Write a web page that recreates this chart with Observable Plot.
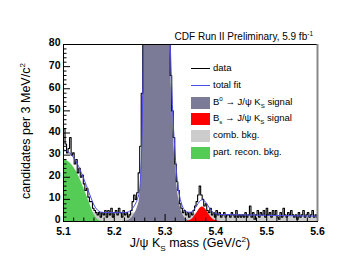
<!DOCTYPE html>
<html><head><meta charset="utf-8">
<script src="https://cdn.jsdelivr.net/npm/d3@7"></script>
<script src="https://cdn.jsdelivr.net/npm/@observablehq/plot@0.6"></script>
<style>
html,body{margin:0;padding:0;background:#fff;}
#wrap{position:relative;width:349px;height:270px;font-family:"Liberation Sans",Arial,sans-serif;color:#000;}
.ov{position:absolute;white-space:nowrap;}
.leg{position:absolute;left:191px;width:19px;}
.lt{position:absolute;left:213px;font-size:9.5px;line-height:12px;white-space:nowrap;}
sup,sub{font-size:0.65em;line-height:0;}
</style>
</head><body>
<div id="wrap"></div>
<script>
// ---- data histogram: counts per 3 MeV bin starting at 5.100 GeV ----
const binStart = 5.1;
const binWidth = 0.003;
const counts = [
42,35,31,33,38,30,31,26,28,22, 24,20,21,17,14,15,11,9,9,6,
5,4,3,4,2,4,3,5,2,5, 3,6,2,4,5,3,6,4,2,5,
3,4,2,3,5,9,12,10,13,22, 34,58,95,140,180,230,270,300,320,335,
330,320,300,270,240,200,160,120,95,84, 66,50,38,26,18,14,8,6,4,5,
3,4,2,4,3,5,7,9,12,16, 12,10,7,8,5,4,6,3,4,2,
5,3,4,2,3,4,2,3,3,2, 4,3,2,5,2,3,2,3,2,4,
2,3,7,2,4,1,3,5,2,4, 3,5,2,6,3,4,2,5,3,5,
2,1,4,2,6,3,2,4,3,5, 3,2,3,1,4,2,3,5,2,3,
4,2,3,5,2,3,2
];

// ---- fit components sampled on a common mass grid (GeV) ----
const fitMass = [5.100,5.110,5.120,5.130,5.140,5.150,5.155,5.160,5.165,5.170,
5.175,5.180,5.190,5.200,5.210,5.220,5.225,5.230,5.235,5.240,
5.245,5.250,5.2525,5.255,5.2575,5.260,5.270,5.284,5.295,5.300,
5.305,5.310,5.315,5.320,5.325,5.330,5.335,5.340,5.345,5.350,
5.355,5.360,5.365,5.370,5.373,5.376,5.380,5.385,5.390,5.395,
5.400,5.410,5.450,5.500,5.550,5.600];
const combBkg = [4.40,4.36,4.32,4.28,4.24,4.20,4.18,4.16,4.14,4.12,
4.10,4.08,4.04,4.00,3.96,3.92,3.90,3.88,3.86,3.84,
3.82,3.80,3.79,3.78,3.77,3.76,3.72,3.66,3.62,3.60,
3.58,3.56,3.54,3.52,3.50,3.48,3.46,3.44,3.42,3.40,
3.38,3.36,3.34,3.32,3.31,3.30,3.28,3.26,3.24,3.22,
3.20,3.16,3.00,2.80,2.60,2.40];
const partRecon = [28,27,24.5,20.5,15,9,6,3.3,1.5,0.5,
0.1,0,0,0,0,0,0,0,0,0,
0,0,0,0,0,0,0,0,0,0,
0,0,0,0,0,0,0,0,0,0,
0,0,0,0,0,0,0,0,0,0,
0,0,0,0,0,0];
const b0Signal = [0,0,0,0,0,0,0,0,0,0,
0,0,0,0,0,0.1,0.3,0.8,1.8,3.5,
6,11,20,40,80,130,280,330,260,190,
125,78,46,26,13,6.5,3,1.4,0.6,0.2,
0,0,0,0,0,0,0,0,0,0,
0,0,0,0,0,0];
const bsSignal = [0,0,0,0,0,0,0,0,0,0,
0,0,0,0,0,0,0,0,0,0,
0,0,0,0,0,0,0,0,0,0,
0,0,0,0,0,0,0,0,0.2,0.6,
1.5,3.0,4.8,6.2,6.5,6.3,5.4,3.7,2.0,0.9,
0.35,0,0,0,0,0];

// ---- axis ticks ----
const yMajor = [0,10,20,30,40,50,60,70,80];
const yMinor = [2,4,6,8,12,14,16,18,22,24,26,28,32,34,36,38,42,44,46,48,52,54,56,58,62,64,66,68,72,74,76,78];
const xMajor = [5.1,5.2,5.3,5.4,5.5,5.6];
const xMinor = [5.12,5.14,5.16,5.18,5.22,5.24,5.26,5.28,5.32,5.34,5.36,5.38,5.42,5.44,5.46,5.48,5.52,5.54,5.56,5.58];

const colors = {b0:"#7b7b98", bs:"#ff0000", comb:"#cccccc", part:"#55cc55", fit:"#4b4bea", data:"#000000"};

const fit = fitMass.map((m,i)=>({m, comb:combBkg[i], part:partRecon[i], b0:b0Signal[i], bs:bsSignal[i],
  total: combBkg[i]+partRecon[i]+b0Signal[i]+bsSignal[i]}));
const steps = [];
counts.forEach((v,i)=>{ const lo = binStart + i*binWidth; steps.push({m:lo, v}, {m:Math.min(lo+binWidth,5.6), v}); });

const W = 349, H = 270, mL = 63, mR = 32, mT = 44, mB = 49;
const pxPerX = (W-mL-mR)/0.5, pxPerY = (H-mT-mB)/80;
const majX = 7/pxPerX, minX = 3.5/pxPerX, majY = 7/pxPerY, minY = 3.5/pxPerY;

const chart = Plot.plot({
  width: W, height: H, marginLeft: mL, marginRight: mR, marginTop: mT, marginBottom: mB,
  style: {fontFamily: '"Liberation Sans", Arial, sans-serif', fontSize: "10.5px", background: "#fff", color:"#000"},
  x: {domain: [5.1, 5.6]},
  y: {domain: [0, 80]},
  marks: [
    Plot.areaY(fit, {x:"m", y:"comb", fill: colors.comb, curve:"monotone-x"}),
    Plot.areaY(fit, {x:"m", y:"part", fill: colors.part, curve:"monotone-x"}),
    Plot.areaY(fit, {x:"m", y:"b0", fill: colors.b0, curve:"monotone-x", clip:true}),
    Plot.areaY(fit, {x:"m", y:"bs", fill: colors.bs, curve:"monotone-x"}),
    Plot.line(steps, {x:"m", y:"v", stroke: colors.data, strokeWidth: 1.1, clip:true}),
    Plot.line(fit, {x:"m", y:"total", stroke: colors.fit, strokeWidth: 1, curve:"monotone-x", clip:true}),
    Plot.ruleY(yMajor, {y:d=>d, x1:5.1, x2:5.1+majX, stroke:"#000"}),
    Plot.ruleY(yMinor, {y:d=>d, x1:5.1, x2:5.1+minX, stroke:"#000"}),
    Plot.ruleX(xMajor, {x:d=>d, y1:0, y2:majY, stroke:"#000"}),
    Plot.ruleX(xMinor, {x:d=>d, y1:0, y2:minY, stroke:"#000"}),
    Plot.axisY({ticks: yMajor, tickSize: 0, tickPadding: 3, dy: -1.5, fontWeight: "bold", label: null, tickFormat: d=>String(d)}),
    Plot.axisX({ticks: xMajor, tickSize: 0, tickPadding: 6, fontWeight: "bold", label: null, tickFormat: d=>d.toFixed(1)}),
    Plot.frame({stroke:"#000"}),
    Plot.ruleX([5.6], {stroke:"#888", strokeWidth: 2})
  ]
});
const wrap = document.getElementById("wrap");
wrap.appendChild(chart);

function add(html, css, cls="ov"){ const d=document.createElement("div"); d.className=cls; d.innerHTML=html; Object.assign(d.style, css); wrap.appendChild(d); return d; }
// title
add('CDF Run II Preliminary, 5.9 fb<sup>-1</sup>', {right:"36px", top:"31px", fontSize:"10px", lineHeight:"12px"});
// axis titles
add('J/&psi; K<sub>S</sub> mass (GeV/c<sup>2</sup>)', {left:"190px", top:"236px", fontSize:"12.5px", lineHeight:"14px", transform:"translateX(-50%)"});
add('candidates per 3 MeV/c<sup>2</sup>', {left:"26px", top:"131px", fontSize:"12.5px", lineHeight:"14px", transform:"translate(-50%,-50%) rotate(-90deg)"});
// legend
const legendRows = [
  {label:'data', type:'line', color: colors.data},
  {label:'total fit', type:'line', color: colors.fit},
  {label:'B<sup>0</sup> &rarr; J/&psi; K<sub>S</sub> signal', type:'box', color: colors.b0},
  {label:'B<sub>s</sub> &rarr; J/&psi; K<sub>S</sub> signal', type:'box', color: colors.bs},
  {label:'comb. bkg.', type:'box', color: colors.comb},
  {label:'part. recon. bkg.', type:'box', color: colors.part}
];
const rowY = [68.5, 85.5, 102.5, 118.5, 135.5, 152.5];
legendRows.forEach((r,i)=>{
  const cy = rowY[i];
  if (r.type==='line') add('', {top:(cy-0.5)+"px", height:"1px", background:r.color}, 'leg');
  else add('', {top:(cy-6)+"px", height:"12px", background:r.color}, 'leg');
  add(r.label, {top:(cy-7)+"px"}, 'lt');
});
</script>
</body></html>
